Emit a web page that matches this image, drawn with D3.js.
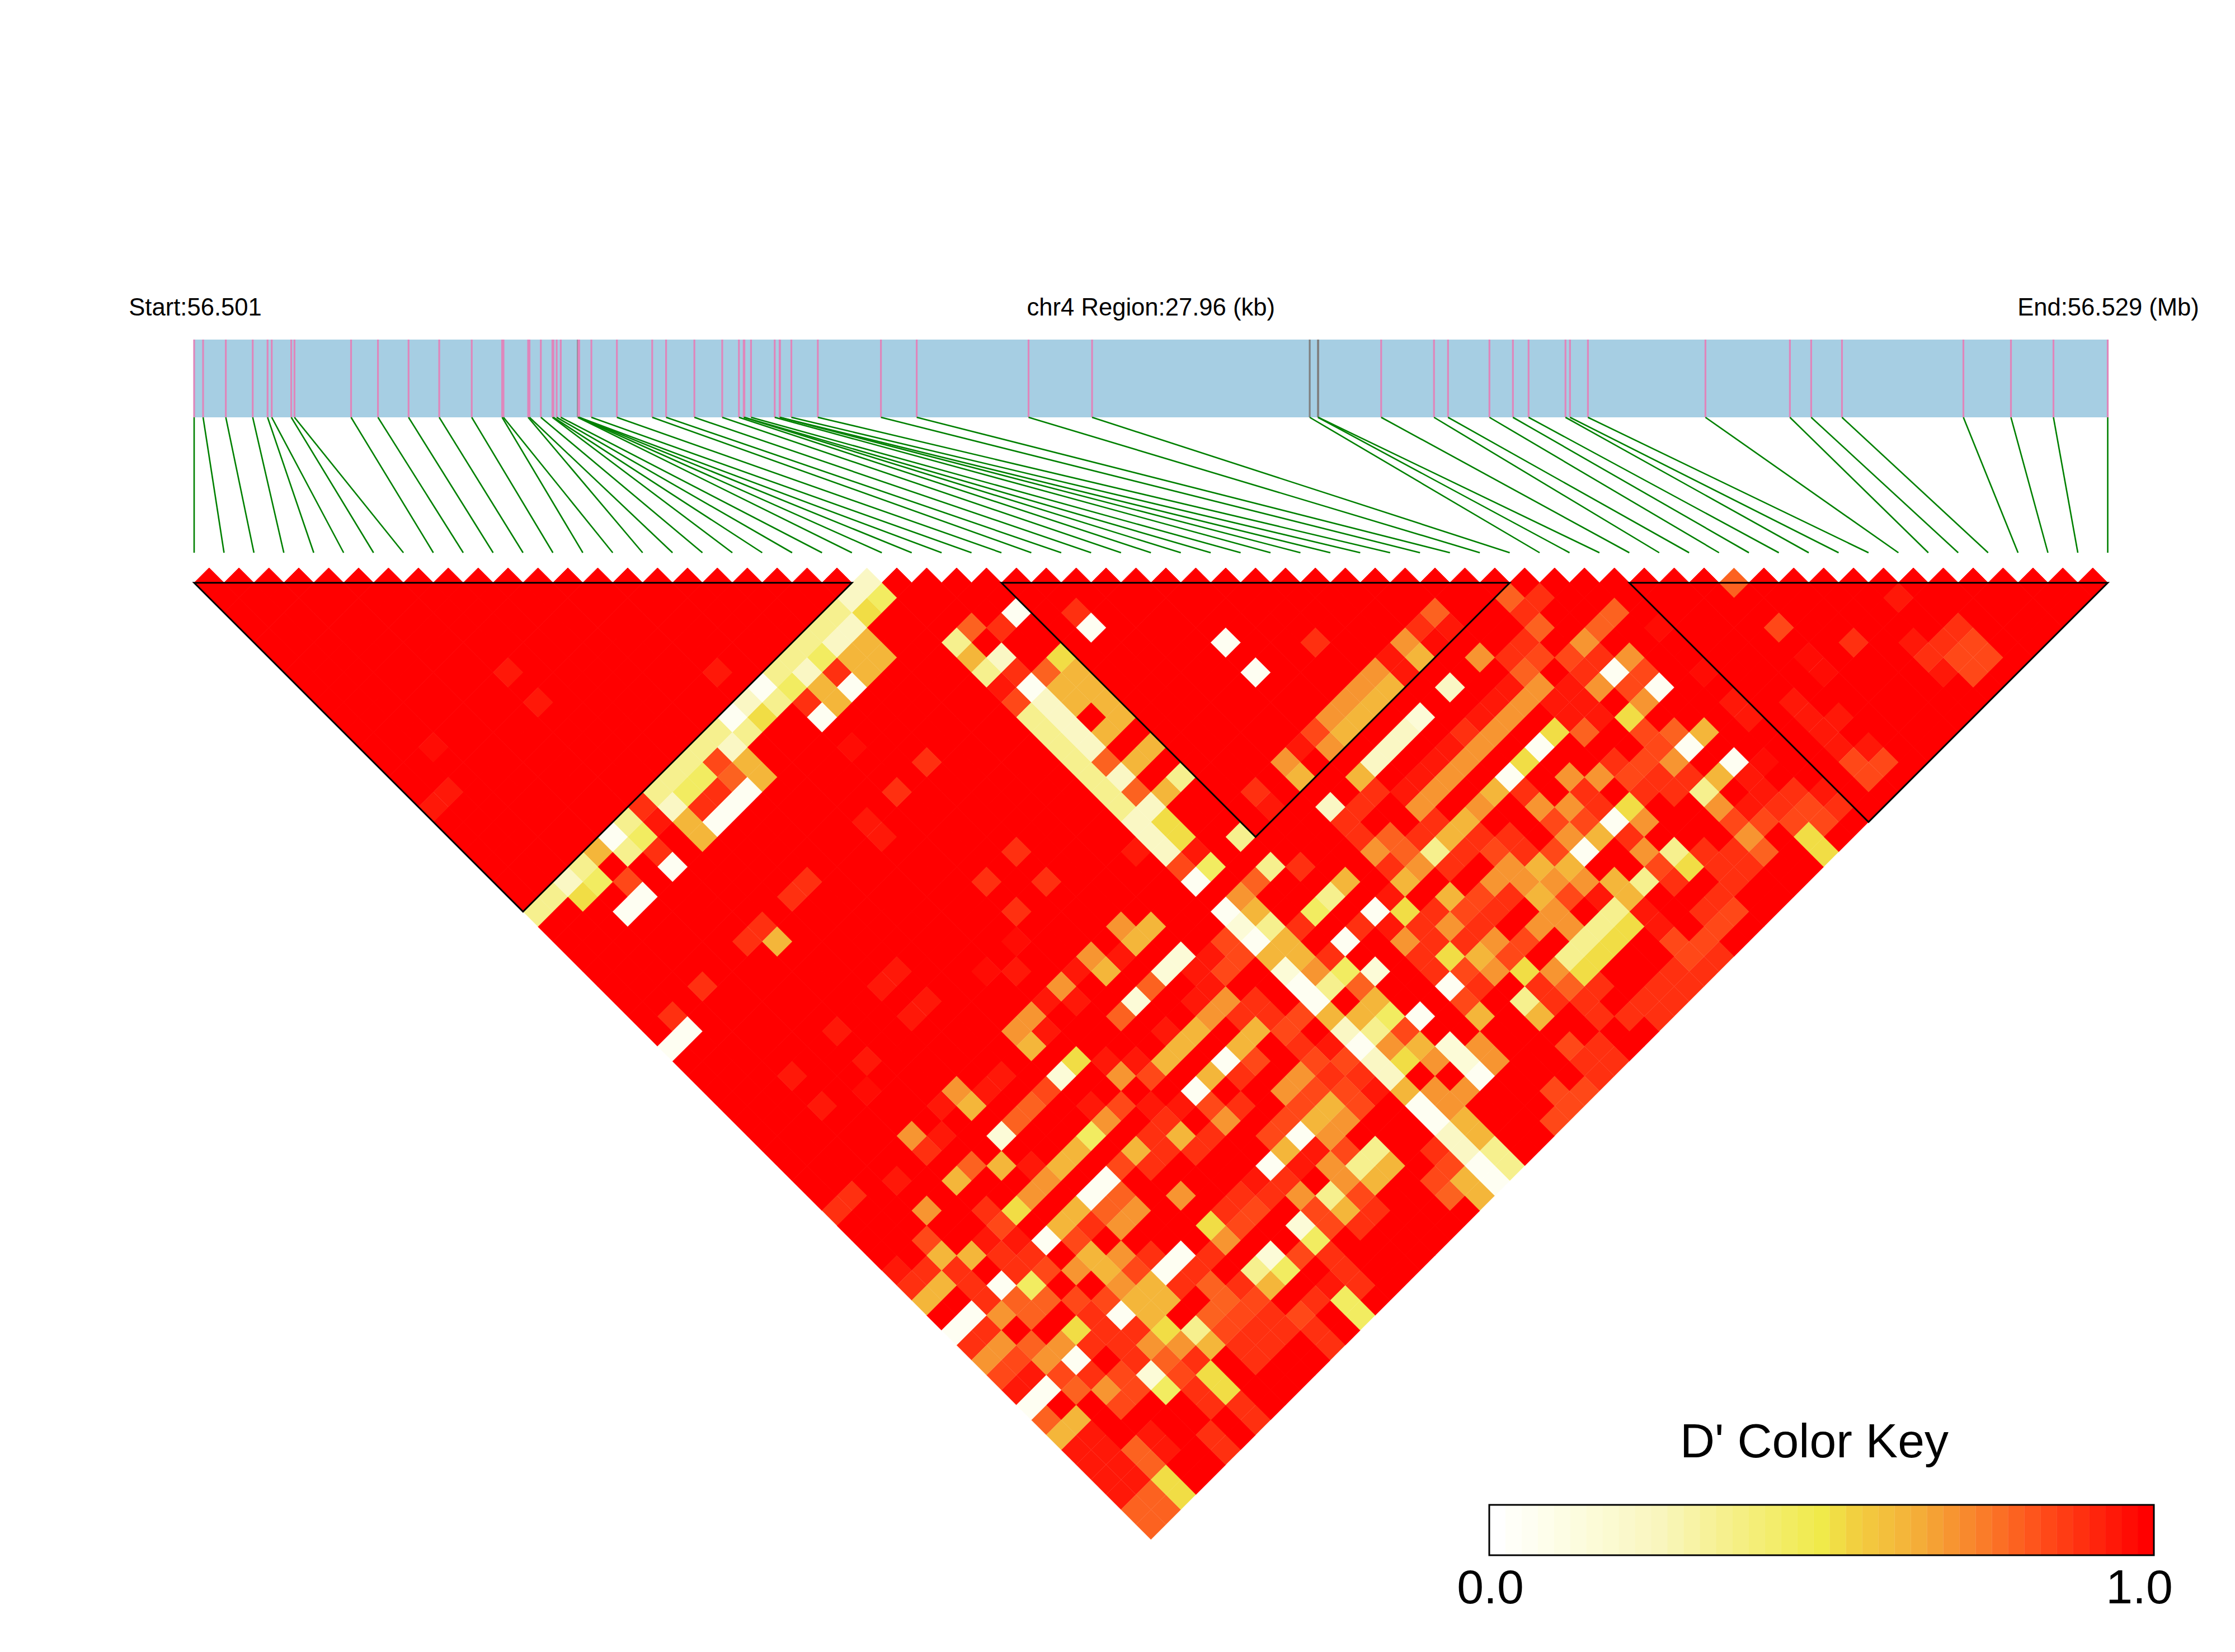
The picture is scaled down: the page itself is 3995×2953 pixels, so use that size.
<!DOCTYPE html>
<html><head><meta charset="utf-8">
<script src="https://cdn.jsdelivr.net/npm/d3@7"></script>
<style>html,body{margin:0;background:#fff}svg{display:block}text{font-family:"Liberation Sans",Arial,sans-serif;fill:#000}</style>
</head><body><div id="chart"></div>
<script>
// SNP positions in kb from region start
const snpKb=[0,0.131,0.463,0.856,1.073,1.134,1.419,1.466,2.293,2.686,3.133,3.581,4.056,4.50,4.52,4.88,4.90,5.066,5.235,5.25,5.297,5.357,5.606,5.616,5.62,5.626,5.804,6.177,6.693,6.896,7.309,7.716,7.96,8.03,8.04,8.137,8.483,8.555,8.56,8.726,9.113,10.035,10.558,12.192,13.12,16.30,16.42,16.425,17.344,18.116,18.321,18.926,19.269,19.498,20.037,20.103,20.365,22.082,23.316,23.627,24.077,25.851,26.546,27.167,27.96];
const greyTicks=[22,45,46,47];
const regionKb=27.96;
const titleStart="Start:56.501", titleMid="chr4 Region:27.96 (kb)", titleEnd="End:56.529 (Mb)";
const keyTitle="D' Color Key", keyLabels=["0.0","1.0"];
const ldBlocks=[[0,22],[27,44],[48,64]];
// colour key stops
const keyStops=[0,.1,.25,.35,.5,.55,.65,.72,.85,1];
const keyColours=["#ffffff","#fdfde4","#f9f6be","#f6f08e","#f0ea4a","#f2d040","#f4ad38","#f88c2e","#ff4818","#ff0000"];
const keyBins=41;
// D' readings; every pair not listed is 1.0
const dp06=[[15,23],[13,23],[5,23],[26,29],[24,32],[18,26],[16,26],[11,26],[10,26],[9,26],[6,26],[4,26],[3,26],[28,32],[32,37],[32,39],[23,44],[39,51],[37,51],[44,51],[45,53],[44,56],[45,58],[39,56],[37,56],[28,51],[26,51],[23,48],[23,46],[23,52],[26,56],[23,55],[28,56],[26,60],[18,56],[16,56],[23,59],[23,60],[23,63],[23,64],[18,51],[16,51],[10,51],[9,51],[10,56],[9,56],[3,51],[1,51],[0,51],[3,56],[6,56],[6,51],[1,56],[0,56],[1,32],[0,32],[23,51]];
const dp14=[[26,53],[26,58],[26,59],[36,46],[8,46],[12,46],[20,46],[19,46],[17,46],[13,59],[15,59],[5,59],[23,50],[23,47]];
const dp22=[[22,23],[21,23],[14,23],[2,23],[20,24],[19,24],[17,24],[12,24],[8,24],[24,30],[24,33],[24,34],[24,35],[24,36],[24,38],[23,41],[23,42],[24,40],[23,40],[35,46],[34,46],[33,46],[38,46],[30,46],[23,54],[23,56],[23,57],[23,61],[23,62]];
const dp35=[[20,23],[19,23],[18,23],[17,23],[16,23],[12,23],[11,23],[10,23],[9,23],[8,23],[6,23],[3,23],[1,23],[0,23],[5,24],[13,24],[15,24],[23,28],[23,30],[23,33],[23,34],[23,35],[23,36],[23,37],[23,38],[23,39],[26,40],[26,44],[32,51],[24,48],[43,58],[40,59],[38,59],[36,59],[35,59],[34,59],[33,59],[27,49],[26,46],[30,59],[24,52],[24,55],[24,63],[24,64],[20,59],[19,59],[17,59],[8,59],[12,59]];
const dp45=[[22,24],[18,24],[16,24],[10,24],[9,24],[6,24],[3,24],[26,49],[25,52],[25,55],[24,44],[11,49],[4,52],[14,63],[14,64],[5,60],[13,60],[15,60]];
const dp53=[[21,24],[14,24],[2,24],[26,32],[24,41],[24,42],[13,46],[43,53],[40,51],[40,56],[40,60],[29,52],[29,55],[31,58],[24,57],[36,60],[35,60],[34,60],[33,60],[4,55],[2,63],[2,64],[7,61],[7,62],[12,56],[7,58],[38,51],[6,49],[45,63],[45,64]];
const dp62=[[4,23],[20,26],[19,26],[17,26],[12,26],[8,26],[20,25],[19,25],[17,25],[12,25],[8,25],[23,29],[25,33],[25,34],[25,36],[25,38],[26,33],[26,34],[26,35],[26,36],[26,38],[25,40],[38,44],[36,44],[35,44],[34,44],[33,44],[30,44],[32,46],[36,51],[34,51],[33,51],[30,51],[45,56],[44,58],[37,59],[28,49],[31,53],[34,56],[37,58],[36,56],[38,56],[24,47],[24,49],[24,50],[23,49],[30,56],[25,54],[24,54],[23,53],[28,58],[30,60],[20,51],[19,51],[25,57],[23,58],[20,56],[19,56],[24,61],[24,62],[17,56],[20,60],[19,60],[22,63],[22,64],[8,44],[12,44],[20,44],[19,44],[5,46],[7,47],[10,49],[9,49],[12,51],[8,51],[7,51],[7,53],[7,54],[7,52],[7,56],[7,57],[8,60],[12,60],[17,60],[3,49],[2,48],[0,49],[1,49],[0,58],[1,58],[7,32],[18,49],[17,49],[16,49],[17,44],[17,51],[14,52],[35,55],[8,56],[8,57]];
const dp70=[[40,46],[44,49],[45,51],[43,51],[41,49],[40,49],[39,49],[38,49],[37,49],[36,49],[35,49],[34,49],[33,49],[38,43],[36,43],[35,43],[34,43],[33,43],[32,44],[30,43],[35,51],[44,53],[43,56],[43,59],[39,53],[37,53],[38,54],[40,54],[39,58],[40,57],[31,51],[33,54],[34,55],[35,56],[36,57],[30,54],[34,57],[33,57],[34,58],[31,56],[32,59],[30,57],[28,53],[24,51],[27,59],[27,60],[25,58],[24,56],[20,54],[19,54],[25,60],[24,59],[24,60],[20,57],[19,57],[18,58],[5,43],[8,43],[13,43],[12,43],[15,43],[17,43],[19,43],[7,49],[8,49],[12,49],[14,48],[20,49],[19,49],[16,53],[3,46],[0,53],[1,53],[2,52],[2,55],[3,58],[7,59],[8,54],[10,53],[9,53],[12,54],[12,57],[43,61],[24,46],[16,58],[7,55],[6,53],[3,55],[6,58],[18,59],[30,49],[34,54],[37,55]];
const dp80=[[24,28],[25,32],[11,25],[24,37],[24,39],[40,43],[43,45],[43,47],[41,48],[46,49],[45,49],[51,52],[41,52],[10,46],[9,46],[6,46],[18,46],[16,46],[10,52],[9,52],[9,59],[10,59],[3,52],[3,53],[2,54],[2,57],[0,57],[6,59],[2,61],[2,62],[0,64],[0,63],[1,64],[1,63],[25,53],[32,60],[44,55],[25,46],[43,62],[10,58],[4,53],[31,49],[31,50],[21,63]];
const dp85=[[11,24],[4,25],[23,32],[23,43],[32,43],[42,48],[43,49],[44,52],[43,54],[43,55],[42,55],[41,55],[39,59],[32,54],[35,57],[31,54],[32,57],[31,57],[29,56],[25,56],[19,55],[22,47],[21,48],[22,48],[15,49],[13,49],[16,52],[19,52],[11,51],[11,46],[5,49],[0,54],[1,54],[2,56],[3,59],[6,60],[9,60],[10,60],[37,62],[38,63],[39,63],[37,63],[30,62],[29,64],[28,64],[27,64],[28,63],[51,55],[2,47],[44,61],[43,60],[45,62],[46,62],[46,63],[49,62],[49,63],[50,63],[57,62],[57,63],[56,62],[56,63],[40,63],[20,55],[7,52],[14,57],[16,59],[18,60],[13,57],[16,60],[14,60],[5,52],[5,54],[6,55],[11,60],[12,62],[8,55],[4,58],[4,59],[45,52],[22,52],[21,52],[21,54],[22,55],[21,56],[21,57],[18,55],[17,55],[19,58],[21,62],[22,62],[28,57],[34,53],[37,54],[36,55],[38,55]];
const dp90=[[7,23],[6,25],[10,25],[9,25],[18,25],[16,25],[24,31],[25,29],[18,31],[16,31],[10,31],[9,31],[18,37],[16,37],[18,39],[16,39],[35,40],[39,43],[28,43],[43,46],[44,46],[42,47],[41,47],[43,50],[37,48],[31,47],[32,47],[30,47],[41,54],[39,54],[39,55],[41,56],[42,56],[42,57],[43,57],[39,60],[39,57],[37,52],[25,49],[25,51],[27,51],[30,53],[29,53],[31,55],[32,55],[33,55],[29,54],[30,55],[28,54],[28,55],[29,57],[31,59],[32,61],[33,61],[32,62],[36,63],[35,63],[34,63],[33,63],[36,64],[35,64],[34,64],[38,64],[37,64],[30,63],[31,63],[31,64],[30,64],[7,31],[6,31],[3,31],[1,31],[5,44],[13,52],[14,53],[15,53],[17,53],[18,52],[13,51],[12,52],[14,51],[5,48],[1,48],[0,48],[2,51],[0,52],[1,52],[1,43],[0,43],[5,63],[5,64],[7,63],[7,64],[6,61],[6,62],[12,63],[12,64],[9,61],[10,61],[11,61],[11,62],[9,62],[10,62],[11,59],[41,60],[42,61],[42,62],[45,61],[46,61],[47,63],[41,61],[41,62],[40,62],[39,62],[53,58],[57,61],[56,61],[55,61],[14,56],[15,57],[13,56],[18,61],[17,61],[8,52],[15,61],[4,50],[5,51],[9,55],[11,57],[2,49],[4,51],[15,62],[10,57],[2,50],[9,57],[15,63],[13,62],[5,55],[5,56],[6,57],[4,56],[5,57],[5,58],[7,60],[3,57],[44,50],[28,31],[21,50],[21,51],[20,50],[21,53],[21,55],[22,56],[16,57],[22,61],[31,60],[27,47],[30,48],[32,50],[30,50],[32,52],[33,50],[34,52],[33,52],[35,53],[35,54]];
const dp94=[[7,24],[23,31],[14,21],[40,44],[37,43],[37,44],[31,43],[28,44],[22,41],[24,43],[42,50],[42,51],[41,50],[41,51],[42,52],[40,48],[39,48],[38,48],[36,48],[35,48],[34,48],[33,48],[44,60],[47,56],[47,57],[45,59],[49,58],[49,59],[49,60],[49,61],[29,51],[28,52],[36,58],[37,60],[37,61],[14,31],[14,32],[7,14],[7,16],[1,16],[0,16],[10,37],[9,37],[10,39],[9,39],[6,37],[6,39],[3,37],[3,39],[10,44],[9,44],[7,43],[6,44],[3,44],[8,48],[13,44],[14,43],[15,44],[16,43],[18,44],[14,41],[21,47],[20,47],[19,48],[20,48],[17,48],[14,47],[15,48],[12,48],[14,50],[15,51],[0,47],[0,55],[1,55],[0,62],[1,62],[1,61],[0,61],[0,60],[0,59],[1,59],[1,60],[3,61],[3,62],[18,57],[45,60],[47,62],[56,58],[55,60],[55,62],[50,60],[50,62],[4,49],[5,50],[14,62],[22,54],[22,57],[17,57],[15,56]];
const dp98=[[16,28],[39,44],[47,51],[47,54],[51,57],[51,58],[46,59],[15,40],[13,40],[5,40],[2,14]];
const levelValues=[.06,.14,.22,.35,.45,.53,.62,.7,.8,.85,.9,.94,.98];
const levelCells=[dp06,dp14,dp22,dp35,dp45,dp53,dp62,dp70,dp80,dp85,dp90,dp94,dp98];

const svg=d3.select("#chart").append("svg").attr("width",3995).attr("height",2953);
const n=snpKb.length, step=(3767.5-347)/64;
const xIdx=d3.scaleLinear().domain([0,n-1]).range([347,3767.5]);
const xKb=d3.scaleLinear().domain([0,regionKb]).range([347,3767.5]);
const yDist=d3.scaleLinear().domain([0,n-1]).range([1015,1015+(n-1)*step/2]);

const colourAt=d3.scaleLinear().domain(keyStops).range(keyColours).interpolate(d3.interpolateRgb);
const binColour=v=>colourAt(Math.round(v*(keyBins-1))/(keyBins-1));

// gene bar
svg.append("rect").attr("x",xKb(0)).attr("y",607).attr("width",xKb(regionKb)-xKb(0)).attr("height",139).attr("fill","#a6cee3");
svg.selectAll("line.tick").data(snpKb).join("line").attr("class","tick")
 .attr("x1",d=>xKb(d)).attr("x2",d=>xKb(d)).attr("y1",607).attr("y2",746)
 .attr("stroke",(d,i)=>greyTicks.includes(i)?"#808080":"#df86bb").attr("stroke-width",3.2);
svg.selectAll("line.link").data(snpKb).join("line").attr("class","link")
 .attr("x1",d=>xKb(d)).attr("y1",746).attr("x2",(d,i)=>xIdx(i)).attr("y2",988)
 .attr("stroke","#008000").attr("stroke-width",2.6);

// LD cells: full-red cells first so their joins close up, others on top
const lookup=new Map();
levelCells.forEach((list,k)=>list.forEach(([a,b])=>lookup.set(a+"-"+b,levelValues[k])));
const cells=[];
for(let i=0;i<n;i++)for(let j=i+1;j<n;j++)cells.push({i,j,v:lookup.has(i+"-"+j)?lookup.get(i+"-"+j):1});
cells.sort((p,q)=>q.v-p.v);
svg.append("g").selectAll("path").data(cells).join("path")
 .attr("d",c=>{const cx=xIdx((c.i+c.j)/2),cy=yDist(c.j-c.i),r=step/2;
   return `M${cx},${cy-r}L${cx+r},${cy}L${cx},${cy+r}L${cx-r},${cy}Z`;})
 .attr("fill",c=>binColour(c.v)).attr("stroke",c=>binColour(c.v)).attr("stroke-width",c=>c.v===1?1:.3);

// LD blocks
svg.append("g").selectAll("path").data(ldBlocks).join("path")
 .attr("d",([a,b])=>`M${xIdx(a)},${yDist(1)}L${xIdx(b)},${yDist(1)}L${xIdx((a+b)/2)},${yDist(b-a+1)}Z`)
 .attr("fill","none").attr("stroke","#000").attr("stroke-width",3).attr("stroke-linejoin","miter");

// titles
const heads=svg.append("g").attr("font-size",43.6).attr("text-anchor","middle");
heads.append("text").attr("x",xIdx(0)+2).attr("y",564).text(titleStart);
heads.append("text").attr("x",xIdx(32)).attr("y",564).text(titleMid);
heads.append("text").attr("x",xIdx(64)+1).attr("y",564).text(titleEnd);

// key
const kx=d3.scaleLinear().domain([0,keyBins]).range([2662,3850]);
svg.append("g").selectAll("rect").data(d3.range(keyBins)).join("rect")
 .attr("x",d=>kx(d)).attr("y",2690).attr("width",d=>kx(d+1)-kx(d)+.3).attr("height",90)
 .attr("fill",d=>binColour(d/(keyBins-1)));
svg.append("rect").attr("x",2662).attr("y",2690).attr("width",1188).attr("height",90).attr("fill","none").attr("stroke","#000").attr("stroke-width",3);
svg.append("text").attr("x",3243).attr("y",2605).attr("font-size",86).attr("text-anchor","middle").text(keyTitle);
svg.append("text").attr("x",2664).attr("y",2866).attr("font-size",86).attr("text-anchor","middle").text(keyLabels[0]);
svg.append("text").attr("x",3824).attr("y",2866).attr("font-size",86).attr("text-anchor","middle").text(keyLabels[1]);
</script></body></html>
